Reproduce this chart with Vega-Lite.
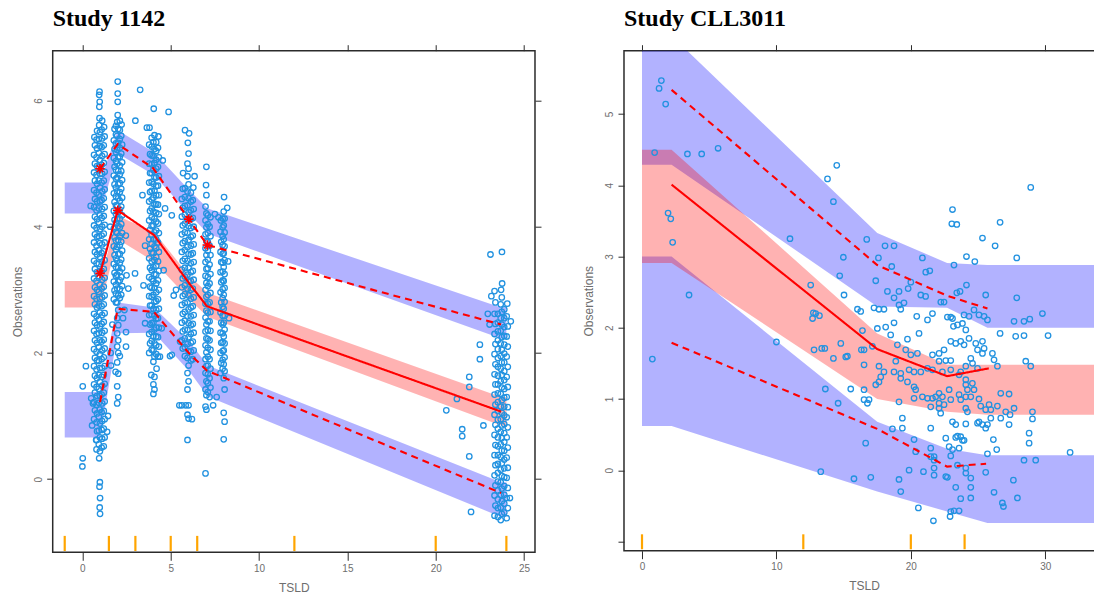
{
  "$schema": "https://vega.github.io/schema/vega-lite/v6.json",
  "padding": {"left": 10.7, "top": 5.7, "right": 0, "bottom": 0},
  "bounds": "flush",
  "spacing": 88.3,
  "config": {
    "view": {"stroke": "#2b2b2b", "strokeWidth": 1.5},
    "axis": {"domain": false, "grid": false, "tickColor": "#2b2b2b", "tickWidth": 1, "labelColor": "#6e6e6e", "labelFont": "Liberation Sans", "labelFontSize": 10, "titleFont": "Liberation Sans", "titleFontSize": 12, "titleFontWeight": "normal", "titleColor": "#6e6e6e", "labelFlush": false, "labelOverlap": false},
    "title": {"font": "Liberation Serif", "fontSize": 24, "fontWeight": "bold", "color": "#000000", "anchor": "start", "frame": "group", "baseline": "alphabetic", "offset": 13}
  },
  "datasets": {
    "b1": [
      {"b":"up","x":-1,"lo":4.21,"hi":4.7},{"b":"up","x":1,"lo":4.21,"hi":4.7},{"b":"up","x":2,"lo":5.16,"hi":5.53},{"b":"up","x":4.05,"lo":4.82,"hi":5.18},{"b":"up","x":6.05,"lo":4.2,"hi":4.58},{"b":"up","x":7.1,"lo":3.89,"hi":4.29},{"b":"up","x":23.7,"lo":2.23,"hi":2.72},{"b":"up","x":24,"lo":2.23,"hi":2.72},
      {"b":"mid","x":-1,"lo":2.72,"hi":3.14},{"b":"mid","x":1,"lo":2.72,"hi":3.14},{"b":"mid","x":2,"lo":3.8,"hi":4.17},{"b":"mid","x":4.05,"lo":3.45,"hi":3.92},{"b":"mid","x":6.05,"lo":2.85,"hi":3.22},{"b":"mid","x":7.1,"lo":2.57,"hi":2.95},{"b":"mid","x":23.7,"lo":0.85,"hi":1.3},{"b":"mid","x":24,"lo":0.85,"hi":1.3},
      {"b":"low","x":-1,"lo":0.66,"hi":1.38},{"b":"low","x":1,"lo":0.66,"hi":1.38},{"b":"low","x":2,"lo":2.31,"hi":2.8},{"b":"low","x":4.05,"lo":2.32,"hi":2.72},{"b":"low","x":6.05,"lo":1.71,"hi":2.18},{"b":"low","x":7.1,"lo":1.31,"hi":1.8},{"b":"low","x":23.7,"lo":-0.6,"hi":-0.05},{"b":"low","x":24,"lo":-0.6,"hi":-0.05}
    ],
    "b2": [
      {"b":"up","x":0,"lo":4.29,"hi":6.1},{"b":"up","x":2.2,"lo":4.29,"hi":6.1},{"b":"up","x":17.5,"lo":2.3,"hi":3.33},{"b":"up","x":22.7,"lo":2.28,"hi":2.91},{"b":"up","x":25.7,"lo":2.0,"hi":2.88},{"b":"up","x":36,"lo":2.0,"hi":2.88},
      {"b":"mid","x":0,"lo":2.91,"hi":4.5},{"b":"mid","x":2.2,"lo":2.91,"hi":4.5},{"b":"mid","x":17.5,"lo":1.0,"hi":1.92},{"b":"mid","x":22.7,"lo":0.82,"hi":1.48},{"b":"mid","x":25.7,"lo":0.78,"hi":1.48},{"b":"mid","x":36,"lo":0.78,"hi":1.48},
      {"b":"low","x":0,"lo":0.62,"hi":3.0},{"b":"low","x":2.2,"lo":0.62,"hi":3.0},{"b":"low","x":17.5,"lo":-0.3,"hi":0.68},{"b":"low","x":22.7,"lo":-0.58,"hi":0.3},{"b":"low","x":25.7,"lo":-0.74,"hi":0.21},{"b":"low","x":36,"lo":-0.74,"hi":0.21}
    ],
    "l1": [
      {"s":"med","x":1,"y":3.26},{"s":"med","x":2,"y":4.26},{"s":"med","x":4.05,"y":3.87},{"s":"med","x":6.05,"y":3.1},{"s":"med","x":7.05,"y":2.74},{"s":"med","x":23.7,"y":1.07},
      {"s":"hi","x":1,"y":4.92},{"s":"hi","x":2,"y":5.31},{"s":"hi","x":4,"y":4.93},{"s":"hi","x":6.02,"y":4.12},{"s":"hi","x":7.07,"y":3.71},{"s":"hi","x":23.7,"y":2.45},
      {"s":"lo","x":1,"y":1.22},{"s":"lo","x":2,"y":2.7},{"s":"lo","x":4.05,"y":2.65},{"s":"lo","x":6.05,"y":1.99},{"s":"lo","x":7.05,"y":1.72},{"s":"lo","x":23.7,"y":-0.22}
    ],
    "l2": [
      {"s":"med","x":2.2,"y":4.01},{"s":"med","x":17.5,"y":1.7},{"s":"med","x":22.7,"y":1.32},{"s":"med","x":25.8,"y":1.43},
      {"s":"hi","x":2.2,"y":5.34},{"s":"hi","x":17.5,"y":2.88},{"s":"hi","x":22.7,"y":2.45},{"s":"hi","x":25.7,"y":2.27},
      {"s":"lo","x":2.2,"y":1.79},{"s":"lo","x":17.5,"y":0.58},{"s":"lo","x":22.7,"y":0.05},{"s":"lo","x":25.6,"y":0.09}
    ],
    "s1": [{"x":1,"y":4.92},{"x":1,"y":3.26},{"x":2,"y":4.26},{"x":6.02,"y":4.12},{"x":7.07,"y":3.71}],
    "k1": [{"x":-1},{"x":1.5},{"x":3},{"x":5},{"x":6.5},{"x":12},{"x":20},{"x":24}],
    "k2": [{"x":0},{"x":12},{"x":20},{"x":24}],
    "o1": [
      {"x":1.0,"y":-0.55},{"x":0.98,"y":-0.45},{"x":1.0,"y":-0.3},{"x":0.97,"y":-0.12},{"x":0.99,"y":-0.05},
      {"x":0.95,"y":0.33},{"x":0.99,"y":0.44},{"x":0.93,"y":0.55},{"x":0.99,"y":0.66},{"x":0.93,"y":0.77},{"x":0.99,"y":0.88},{"x":0.93,"y":0.99},{"x":0.99,"y":1.1},{"x":0.93,"y":1.21},{"x":0.99,"y":1.32},{"x":0.93,"y":1.43},{"x":0.99,"y":1.54},{"x":0.93,"y":1.65},{"x":0.99,"y":1.76},{"x":0.93,"y":1.87},{"x":0.99,"y":1.98},{"x":0.93,"y":2.09},{"x":0.99,"y":2.2},{"x":0.93,"y":2.31},{"x":0.99,"y":2.42},{"x":0.93,"y":2.53},{"x":0.99,"y":2.64},{"x":0.93,"y":2.75},{"x":0.99,"y":2.86},{"x":0.93,"y":2.97},{"x":0.99,"y":3.08},{"x":0.93,"y":3.19},{"x":0.99,"y":3.3},{"x":0.93,"y":3.41},{"x":0.99,"y":3.52},{"x":0.93,"y":3.63},{"x":0.99,"y":3.74},{"x":0.93,"y":3.85},{"x":0.99,"y":3.96},{"x":0.93,"y":4.07},{"x":0.99,"y":4.18},{"x":0.93,"y":4.29},{"x":0.99,"y":4.4},{"x":0.93,"y":4.51},{"x":0.99,"y":4.62},{"x":0.93,"y":4.73},{"x":0.99,"y":4.84},{"x":0.93,"y":4.95},{"x":0.99,"y":5.06},{"x":0.93,"y":5.17},{"x":0.99,"y":5.28},{"x":0.93,"y":5.39},{"x":0.99,"y":5.5},{"x":0.95,"y":5.61},{"x":0.97,"y":5.72},{"x":0.96,"y":5.9},{"x":0.98,"y":5.98},{"x":0.95,"y":6.09},{"x":0.97,"y":6.14},
      {"x":0.66,"y":0.95},{"x":0.71,"y":1.09},{"x":0.66,"y":1.22},{"x":0.71,"y":1.37},{"x":0.66,"y":1.5},{"x":0.71,"y":1.64},{"x":0.66,"y":1.79},{"x":0.71,"y":1.92},{"x":0.66,"y":2.06},{"x":0.71,"y":2.2},{"x":0.66,"y":2.35},{"x":0.71,"y":2.48},{"x":0.66,"y":2.62},{"x":0.71,"y":2.77},{"x":0.66,"y":2.9},{"x":0.71,"y":3.04},{"x":0.66,"y":3.18},{"x":0.71,"y":3.33},{"x":0.66,"y":3.46},{"x":0.71,"y":3.6},{"x":0.66,"y":3.75},{"x":0.71,"y":3.88},{"x":0.66,"y":4.02},{"x":0.71,"y":4.16},{"x":0.66,"y":4.31},{"x":0.71,"y":4.44},{"x":0.66,"y":4.58},{"x":0.71,"y":4.73},{"x":0.66,"y":4.86},{"x":0.71,"y":5.0},{"x":0.66,"y":5.14},{"x":0.71,"y":5.29},{"x":0.68,"y":5.42},
      {"x":0.8,"y":0.62},{"x":0.83,"y":0.76},{"x":0.8,"y":0.9},{"x":0.83,"y":1.04},{"x":0.8,"y":1.18},{"x":0.83,"y":1.32},{"x":0.8,"y":1.46},{"x":0.83,"y":1.6},{"x":0.8,"y":1.74},{"x":0.83,"y":1.88},{"x":0.8,"y":2.02},{"x":0.83,"y":2.16},{"x":0.8,"y":2.3},{"x":0.83,"y":2.44},{"x":0.8,"y":2.58},{"x":0.83,"y":2.72},{"x":0.8,"y":2.86},{"x":0.83,"y":3.0},{"x":0.8,"y":3.14},{"x":0.83,"y":3.28},{"x":0.8,"y":3.42},{"x":0.83,"y":3.56},{"x":0.8,"y":3.7},{"x":0.83,"y":3.84},{"x":0.8,"y":3.98},{"x":0.83,"y":4.12},{"x":0.8,"y":4.26},{"x":0.83,"y":4.4},{"x":0.8,"y":4.54},{"x":0.83,"y":4.68},{"x":0.8,"y":4.82},{"x":0.83,"y":4.96},{"x":0.8,"y":5.1},{"x":0.83,"y":5.24},{"x":0.8,"y":5.38},{"x":0.83,"y":5.52},
      {"x":1.09,"y":0.5},{"x":1.12,"y":0.64},{"x":1.09,"y":0.78},{"x":1.12,"y":0.92},{"x":1.09,"y":1.06},{"x":1.12,"y":1.2},{"x":1.09,"y":1.34},{"x":1.12,"y":1.48},{"x":1.09,"y":1.62},{"x":1.12,"y":1.76},{"x":1.09,"y":1.9},{"x":1.12,"y":2.04},{"x":1.09,"y":2.18},{"x":1.12,"y":2.32},{"x":1.09,"y":2.46},{"x":1.12,"y":2.6},{"x":1.09,"y":2.74},{"x":1.12,"y":2.88},{"x":1.09,"y":3.02},{"x":1.12,"y":3.16},{"x":1.09,"y":3.3},{"x":1.12,"y":3.44},{"x":1.09,"y":3.58},{"x":1.12,"y":3.72},{"x":1.09,"y":3.86},{"x":1.12,"y":4.0},{"x":1.09,"y":4.14},{"x":1.12,"y":4.28},{"x":1.09,"y":4.42},{"x":1.12,"y":4.56},{"x":1.09,"y":4.7},{"x":1.12,"y":4.84},{"x":1.09,"y":4.98},{"x":1.12,"y":5.12},{"x":1.09,"y":5.26},{"x":1.12,"y":5.4},{"x":1.09,"y":5.54},{"x":1.12,"y":5.68},
      {"x":1.21,"y":0.52},{"x":1.26,"y":0.66},{"x":1.21,"y":0.8},{"x":1.26,"y":0.95},{"x":1.21,"y":1.08},{"x":1.26,"y":1.23},{"x":1.21,"y":1.37},{"x":1.26,"y":1.51},{"x":1.21,"y":1.65},{"x":1.26,"y":1.79},{"x":1.21,"y":1.93},{"x":1.26,"y":2.07},{"x":1.21,"y":2.21},{"x":1.26,"y":2.35},{"x":1.21,"y":2.49},{"x":1.26,"y":2.63},{"x":1.21,"y":2.77},{"x":1.26,"y":2.91},{"x":1.21,"y":3.05},{"x":1.26,"y":3.19},{"x":1.21,"y":3.33},{"x":1.26,"y":3.47},{"x":1.21,"y":3.61},{"x":1.26,"y":3.75},{"x":1.21,"y":3.89},{"x":1.26,"y":4.03},{"x":1.21,"y":4.17},{"x":1.26,"y":4.31},{"x":1.21,"y":4.45},{"x":1.26,"y":4.59},{"x":1.21,"y":4.73},{"x":1.26,"y":4.87},{"x":1.21,"y":5.01},{"x":1.26,"y":5.15},{"x":1.21,"y":5.29},{"x":1.26,"y":5.43},{"x":1.23,"y":5.58},
      {"x":0.02,"y":0.33},{"x":0.0,"y":0.2},{"x":0.02,"y":1.47},{"x":0.2,"y":1.79},{"x":0.6,"y":1.2},{"x":0.5,"y":1.28},{"x":0.47,"y":4.33},{"x":0.8,"y":0.47},{"x":0.78,"y":0.62},{"x":1.45,"y":1.0},{"x":0.55,"y":0.85},{"x":1.4,"y":0.75},
      {"x":1.97,"y":1.2},{"x":2.03,"y":1.3},{"x":1.97,"y":1.47},{"x":2.03,"y":1.67},{"x":1.97,"y":1.85},{"x":2.03,"y":2.0},{"x":1.97,"y":2.1},{"x":2.03,"y":2.2},{"x":1.97,"y":2.31},{"x":2.03,"y":2.44},{"x":1.97,"y":2.55},{"x":2.03,"y":2.68},{"x":1.97,"y":2.8},{"x":2.03,"y":2.91},{"x":1.97,"y":3.02},{"x":2.03,"y":3.13},{"x":1.97,"y":3.24},{"x":2.03,"y":3.35},{"x":1.97,"y":3.46},{"x":2.03,"y":3.57},{"x":1.97,"y":3.68},{"x":2.03,"y":3.79},{"x":1.97,"y":3.9},{"x":2.03,"y":4.01},{"x":1.97,"y":4.12},{"x":2.03,"y":4.23},{"x":1.97,"y":4.34},{"x":2.03,"y":4.45},{"x":1.97,"y":4.56},{"x":2.03,"y":4.67},{"x":1.97,"y":4.78},{"x":2.03,"y":4.89},{"x":1.97,"y":5.0},{"x":2.03,"y":5.11},{"x":1.97,"y":5.22},{"x":2.03,"y":5.33},{"x":1.97,"y":5.44},{"x":2.03,"y":5.55},{"x":1.97,"y":5.66},{"x":2.0,"y":5.77},{"x":2.0,"y":5.98},{"x":2.0,"y":6.11},{"x":2.0,"y":6.3},
      {"x":1.78,"y":2.85},{"x":1.82,"y":2.99},{"x":1.78,"y":3.13},{"x":1.82,"y":3.27},{"x":1.78,"y":3.41},{"x":1.82,"y":3.55},{"x":1.78,"y":3.69},{"x":1.82,"y":3.83},{"x":1.78,"y":3.97},{"x":1.82,"y":4.11},{"x":1.78,"y":4.25},{"x":1.82,"y":4.39},{"x":1.78,"y":4.53},{"x":1.82,"y":4.67},{"x":1.78,"y":4.81},{"x":1.82,"y":4.95},{"x":1.78,"y":5.09},{"x":1.82,"y":5.23},{"x":1.78,"y":5.37},{"x":1.82,"y":5.55},
      {"x":1.9,"y":2.8},{"x":1.9,"y":2.94},{"x":1.9,"y":3.08},{"x":1.9,"y":3.22},{"x":1.9,"y":3.36},{"x":1.9,"y":3.5},{"x":1.9,"y":3.64},{"x":1.9,"y":3.78},{"x":1.9,"y":3.92},{"x":1.9,"y":4.06},{"x":1.9,"y":4.2},{"x":1.9,"y":4.34},{"x":1.9,"y":4.48},{"x":1.9,"y":4.62},{"x":1.9,"y":4.76},{"x":1.9,"y":4.9},{"x":1.9,"y":5.04},{"x":1.9,"y":5.18},{"x":1.9,"y":5.32},{"x":1.9,"y":5.46},{"x":1.9,"y":5.6},
      {"x":2.12,"y":2.87},{"x":2.12,"y":3.01},{"x":2.12,"y":3.15},{"x":2.12,"y":3.29},{"x":2.12,"y":3.43},{"x":2.12,"y":3.57},{"x":2.12,"y":3.71},{"x":2.12,"y":3.85},{"x":2.12,"y":3.99},{"x":2.12,"y":4.13},{"x":2.12,"y":4.27},{"x":2.12,"y":4.41},{"x":2.12,"y":4.55},{"x":2.12,"y":4.69},{"x":2.12,"y":4.83},{"x":2.12,"y":4.97},{"x":2.12,"y":5.11},{"x":2.12,"y":5.25},{"x":2.12,"y":5.39},{"x":2.12,"y":5.53},{"x":2.12,"y":5.68},
      {"x":2.2,"y":2.92},{"x":2.25,"y":3.06},{"x":2.2,"y":3.2},{"x":2.25,"y":3.34},{"x":2.2,"y":3.48},{"x":2.25,"y":3.62},{"x":2.2,"y":3.76},{"x":2.25,"y":3.9},{"x":2.2,"y":4.04},{"x":2.25,"y":4.18},{"x":2.2,"y":4.32},{"x":2.25,"y":4.46},{"x":2.2,"y":4.6},{"x":2.25,"y":4.74},{"x":2.2,"y":4.88},{"x":2.25,"y":5.02},{"x":2.2,"y":5.16},{"x":2.25,"y":5.3},{"x":2.2,"y":5.44},{"x":2.22,"y":5.62},
      {"x":1.6,"y":2.0},{"x":1.62,"y":1.8},{"x":2.5,"y":3.23},{"x":2.6,"y":3.02},{"x":1.57,"y":4.0},{"x":2.47,"y":2.33},{"x":2.47,"y":2.1},{"x":2.46,"y":3.86},{"x":1.88,"y":1.7},{"x":2.12,"y":1.95},{"x":3.27,"y":6.17},{"x":2.38,"y":2.68},{"x":1.7,"y":2.45},{"x":2.3,"y":2.55},
      {"x":4.02,"y":1.35},{"x":4.08,"y":1.42},{"x":4.02,"y":1.5},{"x":4.08,"y":1.62},{"x":4.02,"y":1.86},{"x":4.08,"y":1.94},{"x":4.02,"y":2.04},{"x":4.08,"y":2.15},{"x":4.02,"y":2.26},{"x":4.08,"y":2.37},{"x":4.02,"y":2.48},{"x":4.08,"y":2.59},{"x":4.02,"y":2.7},{"x":4.08,"y":2.81},{"x":4.02,"y":2.92},{"x":4.08,"y":3.03},{"x":4.02,"y":3.14},{"x":4.08,"y":3.25},{"x":4.02,"y":3.36},{"x":4.08,"y":3.47},{"x":4.02,"y":3.58},{"x":4.08,"y":3.69},{"x":4.02,"y":3.8},{"x":4.08,"y":3.91},{"x":4.02,"y":4.02},{"x":4.08,"y":4.13},{"x":4.02,"y":4.24},{"x":4.08,"y":4.35},{"x":4.02,"y":4.46},{"x":4.08,"y":4.57},{"x":4.02,"y":4.68},{"x":4.08,"y":4.79},{"x":4.02,"y":4.9},{"x":4.08,"y":5.01},{"x":4.02,"y":5.12},{"x":4.08,"y":5.23},{"x":4.02,"y":5.34},{"x":4.08,"y":5.45},{"x":4.04,"y":5.87},
      {"x":3.78,"y":2.0},{"x":3.83,"y":2.15},{"x":3.78,"y":2.3},{"x":3.83,"y":2.45},{"x":3.78,"y":2.6},{"x":3.83,"y":2.75},{"x":3.78,"y":2.9},{"x":3.83,"y":3.05},{"x":3.78,"y":3.2},{"x":3.83,"y":3.35},{"x":3.78,"y":3.5},{"x":3.83,"y":3.65},{"x":3.78,"y":3.8},{"x":3.83,"y":3.95},{"x":3.78,"y":4.1},{"x":3.83,"y":4.25},{"x":3.78,"y":4.4},{"x":3.83,"y":4.55},{"x":3.78,"y":4.7},{"x":3.83,"y":4.85},{"x":3.78,"y":5.0},{"x":3.83,"y":5.15},{"x":3.78,"y":5.3},{"x":3.8,"y":5.57},
      {"x":3.92,"y":2.05},{"x":3.92,"y":2.19},{"x":3.92,"y":2.33},{"x":3.92,"y":2.47},{"x":3.92,"y":2.61},{"x":3.92,"y":2.75},{"x":3.92,"y":2.89},{"x":3.92,"y":3.03},{"x":3.92,"y":3.17},{"x":3.92,"y":3.31},{"x":3.92,"y":3.45},{"x":3.92,"y":3.59},{"x":3.92,"y":3.73},{"x":3.92,"y":3.87},{"x":3.92,"y":4.01},{"x":3.92,"y":4.15},{"x":3.92,"y":4.29},{"x":3.92,"y":4.43},{"x":3.92,"y":4.57},{"x":3.92,"y":4.71},{"x":3.92,"y":4.85},{"x":3.92,"y":4.99},{"x":3.92,"y":5.13},{"x":3.92,"y":5.27},{"x":3.92,"y":5.41},
      {"x":4.18,"y":1.98},{"x":4.18,"y":2.12},{"x":4.18,"y":2.26},{"x":4.18,"y":2.4},{"x":4.18,"y":2.54},{"x":4.18,"y":2.68},{"x":4.18,"y":2.82},{"x":4.18,"y":2.96},{"x":4.18,"y":3.1},{"x":4.18,"y":3.24},{"x":4.18,"y":3.38},{"x":4.18,"y":3.52},{"x":4.18,"y":3.66},{"x":4.18,"y":3.8},{"x":4.18,"y":3.94},{"x":4.18,"y":4.08},{"x":4.18,"y":4.22},{"x":4.18,"y":4.36},{"x":4.18,"y":4.5},{"x":4.18,"y":4.64},{"x":4.18,"y":4.78},{"x":4.18,"y":4.92},{"x":4.18,"y":5.06},{"x":4.18,"y":5.2},{"x":4.18,"y":5.34},
      {"x":4.28,"y":1.94},{"x":4.33,"y":2.1},{"x":4.28,"y":2.25},{"x":4.33,"y":2.4},{"x":4.28,"y":2.55},{"x":4.33,"y":2.7},{"x":4.28,"y":2.85},{"x":4.33,"y":3.0},{"x":4.28,"y":3.15},{"x":4.33,"y":3.3},{"x":4.28,"y":3.45},{"x":4.33,"y":3.6},{"x":4.28,"y":3.75},{"x":4.33,"y":3.9},{"x":4.28,"y":4.05},{"x":4.33,"y":4.2},{"x":4.28,"y":4.35},{"x":4.33,"y":4.5},{"x":4.28,"y":4.65},{"x":4.33,"y":4.8},{"x":4.28,"y":4.95},{"x":4.33,"y":5.1},{"x":4.28,"y":5.25},{"x":4.3,"y":5.43},
      {"x":3.0,"y":5.68},{"x":4.88,"y":5.82},{"x":4.6,"y":3.31},{"x":5.17,"y":2.91},{"x":3.46,"y":3.07},{"x":3.55,"y":3.7},{"x":2.98,"y":3.26},{"x":4.68,"y":4.29},{"x":5.06,"y":4.18},{"x":3.55,"y":2.47},{"x":4.49,"y":2.39},{"x":4.96,"y":1.95},{"x":4.39,"y":1.94},{"x":3.9,"y":1.65},{"x":4.2,"y":1.75},{"x":3.4,"y":4.5},{"x":4.55,"y":5.05},{"x":3.65,"y":5.57},
      {"x":5.95,"y":0.62},{"x":6.01,"y":0.96},{"x":5.95,"y":1.02},{"x":6.01,"y":1.17},{"x":5.95,"y":1.42},{"x":6.01,"y":1.55},{"x":5.95,"y":1.68},{"x":6.01,"y":1.8},{"x":5.95,"y":1.92},{"x":6.01,"y":2.03},{"x":5.95,"y":2.14},{"x":6.01,"y":2.25},{"x":5.95,"y":2.36},{"x":6.01,"y":2.47},{"x":5.95,"y":2.58},{"x":6.01,"y":2.69},{"x":5.95,"y":2.8},{"x":6.01,"y":2.91},{"x":5.95,"y":3.02},{"x":6.01,"y":3.13},{"x":5.95,"y":3.24},{"x":6.01,"y":3.35},{"x":5.95,"y":3.46},{"x":6.01,"y":3.57},{"x":5.95,"y":3.68},{"x":6.01,"y":3.79},{"x":5.95,"y":3.9},{"x":6.01,"y":4.01},{"x":5.95,"y":4.12},{"x":6.01,"y":4.23},{"x":5.95,"y":4.34},{"x":6.01,"y":4.45},{"x":5.95,"y":4.56},{"x":6.01,"y":4.67},{"x":5.95,"y":4.8},{"x":6.01,"y":4.92},{"x":5.95,"y":5.0},{"x":6.01,"y":5.16},{"x":5.97,"y":5.33},{"x":6.04,"y":5.48},
      {"x":5.63,"y":1.17},{"x":5.68,"y":2.07},{"x":5.63,"y":2.2},{"x":5.68,"y":2.34},{"x":5.63,"y":2.48},{"x":5.68,"y":2.62},{"x":5.63,"y":2.76},{"x":5.68,"y":2.9},{"x":5.63,"y":3.04},{"x":5.68,"y":3.18},{"x":5.63,"y":3.32},{"x":5.68,"y":3.46},{"x":5.63,"y":3.6},{"x":5.68,"y":3.74},{"x":5.63,"y":3.88},{"x":5.68,"y":4.02},{"x":5.63,"y":4.16},{"x":5.68,"y":4.3},{"x":5.63,"y":4.44},{"x":5.68,"y":4.6},
      {"x":5.8,"y":1.95},{"x":5.8,"y":2.09},{"x":5.8,"y":2.23},{"x":5.8,"y":2.37},{"x":5.8,"y":2.51},{"x":5.8,"y":2.65},{"x":5.8,"y":2.79},{"x":5.8,"y":2.93},{"x":5.8,"y":3.07},{"x":5.8,"y":3.21},{"x":5.8,"y":3.35},{"x":5.8,"y":3.49},{"x":5.8,"y":3.63},{"x":5.8,"y":3.77},{"x":5.8,"y":3.91},{"x":5.8,"y":4.05},{"x":5.8,"y":4.19},{"x":5.8,"y":4.33},{"x":5.8,"y":4.47},{"x":5.8,"y":4.61},
      {"x":6.14,"y":1.88},{"x":6.14,"y":2.02},{"x":6.14,"y":2.16},{"x":6.14,"y":2.3},{"x":6.14,"y":2.44},{"x":6.14,"y":2.58},{"x":6.14,"y":2.72},{"x":6.14,"y":2.86},{"x":6.14,"y":3.0},{"x":6.14,"y":3.14},{"x":6.14,"y":3.28},{"x":6.14,"y":3.42},{"x":6.14,"y":3.56},{"x":6.14,"y":3.7},{"x":6.14,"y":3.84},{"x":6.14,"y":3.98},{"x":6.14,"y":4.12},{"x":6.14,"y":4.26},{"x":6.14,"y":4.4},{"x":6.14,"y":4.54},
      {"x":6.25,"y":1.9},{"x":6.3,"y":2.04},{"x":6.25,"y":2.18},{"x":6.3,"y":2.32},{"x":6.25,"y":2.46},{"x":6.3,"y":2.6},{"x":6.25,"y":2.74},{"x":6.3,"y":2.88},{"x":6.25,"y":3.02},{"x":6.3,"y":3.16},{"x":6.25,"y":3.3},{"x":6.3,"y":3.44},{"x":6.25,"y":3.58},{"x":6.3,"y":3.72},{"x":6.25,"y":3.86},{"x":6.3,"y":4.0},{"x":6.25,"y":4.14},{"x":6.3,"y":4.28},{"x":6.25,"y":4.42},{"x":6.28,"y":4.62},
      {"x":5.81,"y":5.53},{"x":5.49,"y":1.17},{"x":5.06,"y":1.97},{"x":5.85,"y":1.17},{"x":6.2,"y":0.95},{"x":5.7,"y":4.85},{"x":6.35,"y":4.8},{"x":5.3,"y":3.0},{"x":5.53,"y":2.18},
      {"x":6.97,"y":0.09},{"x":7.02,"y":1.1},{"x":6.97,"y":1.15},{"x":7.02,"y":1.33},{"x":6.97,"y":1.42},{"x":7.02,"y":1.55},{"x":6.97,"y":1.68},{"x":7.02,"y":1.79},{"x":6.97,"y":1.9},{"x":7.02,"y":2.01},{"x":6.97,"y":2.12},{"x":7.02,"y":2.23},{"x":6.97,"y":2.34},{"x":7.02,"y":2.45},{"x":6.97,"y":2.56},{"x":7.02,"y":2.67},{"x":6.97,"y":2.78},{"x":7.02,"y":2.89},{"x":6.97,"y":3.0},{"x":7.02,"y":3.11},{"x":6.97,"y":3.22},{"x":7.02,"y":3.33},{"x":6.97,"y":3.44},{"x":7.02,"y":3.55},{"x":6.97,"y":3.66},{"x":7.02,"y":3.77},{"x":6.97,"y":3.88},{"x":7.02,"y":3.99},{"x":6.97,"y":4.1},{"x":7.02,"y":4.21},{"x":6.97,"y":4.32},{"x":7.02,"y":4.5},{"x":7.0,"y":4.66},{"x":7.02,"y":4.95},
      {"x":7.1,"y":1.38},{"x":7.1,"y":1.52},{"x":7.1,"y":1.66},{"x":7.1,"y":1.8},{"x":7.1,"y":1.94},{"x":7.1,"y":2.08},{"x":7.1,"y":2.22},{"x":7.1,"y":2.36},{"x":7.1,"y":2.5},{"x":7.1,"y":2.64},{"x":7.1,"y":2.78},{"x":7.1,"y":2.92},{"x":7.1,"y":3.06},{"x":7.1,"y":3.2},{"x":7.1,"y":3.34},{"x":7.1,"y":3.48},{"x":7.1,"y":3.62},{"x":7.1,"y":3.76},{"x":7.1,"y":3.9},{"x":7.1,"y":4.04},{"x":7.1,"y":4.18},
      {"x":7.2,"y":1.3},{"x":7.25,"y":1.45},{"x":7.2,"y":1.6},{"x":7.25,"y":1.75},{"x":7.2,"y":1.9},{"x":7.25,"y":2.05},{"x":7.2,"y":2.2},{"x":7.25,"y":2.35},{"x":7.2,"y":2.5},{"x":7.25,"y":2.65},{"x":7.2,"y":2.8},{"x":7.25,"y":2.95},{"x":7.2,"y":3.1},{"x":7.25,"y":3.25},{"x":7.2,"y":3.4},{"x":7.25,"y":3.55},{"x":7.2,"y":3.7},{"x":7.25,"y":3.85},{"x":7.2,"y":4.0},{"x":7.25,"y":4.15},
      {"x":8.0,"y":0.63},{"x":8.05,"y":0.91},{"x":8.0,"y":1.05},{"x":8.05,"y":1.42},{"x":8.0,"y":1.6},{"x":8.05,"y":1.71},{"x":8.0,"y":1.82},{"x":8.05,"y":1.93},{"x":8.0,"y":2.04},{"x":8.05,"y":2.15},{"x":8.0,"y":2.26},{"x":8.05,"y":2.37},{"x":8.0,"y":2.48},{"x":8.05,"y":2.59},{"x":8.0,"y":2.7},{"x":8.05,"y":2.81},{"x":8.0,"y":2.92},{"x":8.05,"y":3.03},{"x":8.0,"y":3.14},{"x":8.05,"y":3.25},{"x":8.0,"y":3.36},{"x":8.05,"y":3.47},{"x":8.0,"y":3.58},{"x":8.05,"y":3.69},{"x":8.0,"y":3.8},{"x":8.05,"y":3.91},{"x":8.0,"y":4.02},{"x":8.05,"y":4.13},{"x":8.0,"y":4.24},{"x":8.02,"y":4.47},
      {"x":7.94,"y":1.75},{"x":7.94,"y":1.89},{"x":7.94,"y":2.03},{"x":7.94,"y":2.17},{"x":7.94,"y":2.31},{"x":7.94,"y":2.45},{"x":7.94,"y":2.59},{"x":7.94,"y":2.73},{"x":7.94,"y":2.87},{"x":7.94,"y":3.01},{"x":7.94,"y":3.15},{"x":7.94,"y":3.29},{"x":7.94,"y":3.43},{"x":7.94,"y":3.57},{"x":7.94,"y":3.71},{"x":7.94,"y":3.85},{"x":7.94,"y":3.99},{"x":7.94,"y":4.13},
      {"x":7.82,"y":1.68},{"x":7.86,"y":1.84},{"x":7.82,"y":2.0},{"x":7.86,"y":2.16},{"x":7.82,"y":2.32},{"x":7.86,"y":2.48},{"x":7.82,"y":2.64},{"x":7.86,"y":2.8},{"x":7.82,"y":2.96},{"x":7.86,"y":3.12},{"x":7.82,"y":3.28},{"x":7.86,"y":3.44},{"x":7.82,"y":3.6},{"x":7.86,"y":3.76},{"x":7.82,"y":3.92},{"x":7.84,"y":4.1},
      {"x":7.4,"y":1.17},{"x":7.5,"y":4.2},{"x":7.7,"y":4.15},{"x":8.3,"y":2.55},{"x":8.25,"y":3.45},{"x":7.6,"y":1.3},{"x":8.2,"y":4.3},
      {"x":23.68,"y":-0.65},{"x":23.74,"y":-0.55},{"x":23.68,"y":-0.45},{"x":23.74,"y":-0.35},{"x":23.68,"y":-0.25},{"x":23.74,"y":-0.15},{"x":23.68,"y":-0.05},{"x":23.74,"y":0.05},{"x":23.68,"y":0.15},{"x":23.74,"y":0.25},{"x":23.68,"y":0.35},{"x":23.74,"y":0.45},{"x":23.68,"y":0.55},{"x":23.74,"y":0.65},{"x":23.68,"y":0.75},{"x":23.74,"y":0.85},{"x":23.68,"y":0.95},{"x":23.74,"y":1.05},{"x":23.68,"y":1.15},{"x":23.74,"y":1.25},{"x":23.68,"y":1.35},{"x":23.74,"y":1.45},{"x":23.68,"y":1.55},{"x":23.74,"y":1.65},{"x":23.68,"y":1.75},{"x":23.74,"y":1.85},{"x":23.68,"y":1.95},{"x":23.74,"y":2.05},{"x":23.68,"y":2.15},{"x":23.74,"y":2.25},{"x":23.68,"y":2.35},{"x":23.74,"y":2.45},{"x":23.68,"y":2.55},{"x":23.74,"y":2.65},{"x":23.68,"y":2.77},{"x":23.74,"y":2.88},{"x":23.7,"y":3.0},{"x":23.76,"y":3.1},
      {"x":23.52,"y":-0.6},{"x":23.52,"y":-0.46},{"x":23.52,"y":-0.32},{"x":23.52,"y":-0.18},{"x":23.52,"y":-0.04},{"x":23.52,"y":0.1},{"x":23.52,"y":0.24},{"x":23.52,"y":0.38},{"x":23.52,"y":0.52},{"x":23.52,"y":0.66},{"x":23.52,"y":0.8},{"x":23.52,"y":0.94},{"x":23.52,"y":1.08},{"x":23.52,"y":1.22},{"x":23.52,"y":1.36},{"x":23.52,"y":1.5},{"x":23.52,"y":1.64},{"x":23.52,"y":1.78},{"x":23.52,"y":1.92},{"x":23.52,"y":2.06},{"x":23.52,"y":2.2},{"x":23.52,"y":2.34},{"x":23.52,"y":2.48},{"x":23.52,"y":2.62},
      {"x":23.88,"y":-0.53},{"x":23.88,"y":-0.39},{"x":23.88,"y":-0.25},{"x":23.88,"y":-0.11},{"x":23.88,"y":0.03},{"x":23.88,"y":0.17},{"x":23.88,"y":0.31},{"x":23.88,"y":0.45},{"x":23.88,"y":0.59},{"x":23.88,"y":0.73},{"x":23.88,"y":0.87},{"x":23.88,"y":1.01},{"x":23.88,"y":1.15},{"x":23.88,"y":1.29},{"x":23.88,"y":1.43},{"x":23.88,"y":1.57},{"x":23.88,"y":1.71},{"x":23.88,"y":1.85},{"x":23.88,"y":1.99},{"x":23.88,"y":2.13},{"x":23.88,"y":2.27},{"x":23.88,"y":2.41},{"x":23.88,"y":2.55},{"x":23.88,"y":2.69},
      {"x":23.33,"y":-0.58},{"x":23.38,"y":-0.42},{"x":23.33,"y":-0.26},{"x":23.38,"y":-0.1},{"x":23.33,"y":0.06},{"x":23.38,"y":0.22},{"x":23.33,"y":0.38},{"x":23.38,"y":0.54},{"x":23.33,"y":0.7},{"x":23.38,"y":0.86},{"x":23.33,"y":1.02},{"x":23.38,"y":1.18},{"x":23.33,"y":1.34},{"x":23.38,"y":1.5},{"x":23.33,"y":1.66},{"x":23.38,"y":1.82},{"x":23.33,"y":1.98},{"x":23.38,"y":2.14},{"x":23.33,"y":2.3},{"x":23.38,"y":2.46},{"x":23.33,"y":2.62},{"x":23.38,"y":2.8},{"x":23.33,"y":2.98},
      {"x":24.02,"y":-0.62},{"x":24.08,"y":-0.46},{"x":24.02,"y":-0.3},{"x":24.08,"y":-0.14},{"x":24.02,"y":0.02},{"x":24.08,"y":0.18},{"x":24.02,"y":0.34},{"x":24.08,"y":0.5},{"x":24.02,"y":0.66},{"x":24.08,"y":0.82},{"x":24.02,"y":0.98},{"x":24.08,"y":1.14},{"x":24.02,"y":1.3},{"x":24.08,"y":1.46},{"x":24.02,"y":1.62},{"x":24.08,"y":1.78},{"x":24.02,"y":1.94},{"x":24.08,"y":2.1},{"x":24.02,"y":2.26},{"x":24.08,"y":2.42},{"x":24.02,"y":2.58},{"x":24.05,"y":2.78},
      {"x":20.6,"y":1.09},{"x":21.2,"y":1.27},{"x":21.5,"y":0.79},{"x":21.5,"y":0.68},{"x":21.9,"y":1.62},{"x":21.9,"y":1.46},{"x":21.9,"y":0.36},{"x":22.0,"y":-0.52},{"x":22.5,"y":1.9},{"x":22.5,"y":2.13},{"x":23.1,"y":3.56},{"x":23.75,"y":3.6},{"x":22.7,"y":0.85},{"x":22.95,"y":2.62},{"x":23.05,"y":2.45},{"x":23.15,"y":2.9},{"x":24.25,"y":2.5},{"x":24.2,"y":-0.3}
    ],
    "o2": [
      {"x":1.44,"y":5.47},{"x":1.27,"y":5.36},{"x":1.76,"y":5.14},{"x":0.94,"y":4.46},{"x":3.38,"y":4.44},{"x":4.44,"y":4.44},{"x":5.66,"y":4.52},{"x":1.94,"y":3.61},{"x":2.14,"y":3.53},{"x":2.28,"y":3.2},{"x":3.5,"y":2.46},{"x":14.49,"y":4.28},{"x":13.8,"y":4.09},{"x":14.24,"y":3.77},{"x":11.01,"y":3.25},{"x":14.98,"y":2.99},{"x":14.71,"y":2.73},{"x":12.55,"y":2.6},{"x":15.03,"y":2.46},{"x":0.77,"y":1.56},
      {"x":10.0,"y":1.8},{"x":12.75,"y":2.21},{"x":12.92,"y":2.2},{"x":13.2,"y":2.17},{"x":12.69,"y":2.13},{"x":12.8,"y":1.69},{"x":13.37,"y":1.71},{"x":13.6,"y":1.71},{"x":14.24,"y":1.57},{"x":14.79,"y":1.78},{"x":15.28,"y":1.6},{"x":13.64,"y":1.14},{"x":14.59,"y":0.94},{"x":15.53,"y":1.14},{"x":13.3,"y":-0.02},{"x":15.77,"y":-0.12},{"x":16.27,"y":2.23},{"x":16.32,"y":1.69},{"x":15.16,"y":1.59},
      {"x":16.72,"y":3.24},{"x":18.08,"y":3.15},{"x":18.75,"y":3.15},{"x":17.59,"y":2.98},{"x":18.58,"y":2.86},{"x":20.86,"y":2.98},{"x":21.11,"y":2.78},{"x":21.41,"y":2.8},{"x":17.39,"y":2.66},{"x":18.26,"y":2.51},{"x":19.12,"y":2.51},{"x":20.0,"y":2.64},{"x":19.8,"y":2.55},{"x":23.1,"y":3.66},{"x":23.05,"y":3.46},{"x":23.42,"y":3.45},{"x":26.64,"y":3.48},{"x":28.92,"y":3.97},{"x":25.33,"y":3.26},{"x":26.27,"y":3.15},{"x":24.14,"y":3.0},{"x":24.76,"y":2.93},{"x":27.88,"y":2.98},{"x":23.21,"y":2.88},{"x":24.14,"y":2.6},{"x":23.42,"y":2.49},{"x":23.66,"y":2.51},{"x":20.74,"y":2.46},{"x":21.1,"y":2.44},{"x":18.75,"y":2.42},{"x":19.49,"y":2.35},{"x":25.57,"y":2.46},{"x":27.88,"y":2.42},{"x":22.23,"y":2.36},{"x":22.47,"y":2.36},
      {"x":16.03,"y":2.26},{"x":17.26,"y":2.28},{"x":17.63,"y":2.26},{"x":18.0,"y":2.26},{"x":19.12,"y":2.32},{"x":19.25,"y":2.26},{"x":20.44,"y":2.16},{"x":21.24,"y":2.11},{"x":21.61,"y":2.2},{"x":22.72,"y":2.15},{"x":22.97,"y":2.15},{"x":23.96,"y":2.18},{"x":24.33,"y":2.16},{"x":24.7,"y":2.25},{"x":25.07,"y":2.18},{"x":25.45,"y":2.16},{"x":25.7,"y":2.11},{"x":27.68,"y":2.09},{"x":28.42,"y":2.09},{"x":28.85,"y":2.12},{"x":29.79,"y":2.2},{"x":18.75,"y":2.07},{"x":17.51,"y":1.99},{"x":18.13,"y":2.01},{"x":16.4,"y":1.96},{"x":18.5,"y":1.9},{"x":19.75,"y":1.84},{"x":20.61,"y":1.92},{"x":19.0,"y":1.76},{"x":19.62,"y":1.69},{"x":16.52,"y":1.69},{"x":17.14,"y":1.74},
      {"x":23.1,"y":2.13},{"x":23.17,"y":2.02},{"x":23.47,"y":2.04},{"x":23.84,"y":2.06},{"x":24.09,"y":1.97},{"x":24.33,"y":1.85},{"x":23.71,"y":1.81},{"x":23.96,"y":1.76},{"x":22.97,"y":1.81},{"x":23.34,"y":1.78},{"x":24.83,"y":1.78},{"x":25.33,"y":1.81},{"x":25.45,"y":1.71},{"x":24.96,"y":1.69},{"x":25.33,"y":1.64},{"x":26.07,"y":1.64},{"x":26.19,"y":1.55},{"x":26.44,"y":1.46},{"x":26.64,"y":1.92},{"x":27.8,"y":1.88},{"x":28.42,"y":1.89},{"x":30.21,"y":1.89},{"x":28.55,"y":1.53},{"x":28.92,"y":1.46},
      {"x":20.0,"y":1.62},{"x":20.49,"y":1.64},{"x":21.61,"y":1.62},{"x":22.1,"y":1.64},{"x":22.47,"y":1.69},{"x":22.1,"y":1.53},{"x":22.6,"y":1.54},{"x":22.97,"y":1.54},{"x":24.46,"y":1.57},{"x":24.59,"y":1.5},{"x":24.09,"y":1.46},{"x":23.71,"y":1.38},{"x":24.96,"y":1.43},{"x":22.97,"y":1.41},{"x":23.59,"y":1.34},{"x":22.35,"y":1.38},{"x":21.24,"y":1.43},{"x":21.61,"y":1.41},{"x":20.74,"y":1.38},{"x":20.24,"y":1.38},{"x":19.87,"y":1.41},{"x":18.88,"y":1.53},{"x":18.75,"y":1.38},{"x":19.25,"y":1.36},{"x":17.63,"y":1.46},{"x":18.0,"y":1.38},{"x":17.76,"y":1.31},{"x":16.52,"y":1.48},{"x":17.39,"y":1.2},{"x":17.63,"y":1.24},{"x":16.52,"y":1.13},{"x":16.52,"y":0.99},{"x":16.89,"y":0.99},{"x":16.77,"y":0.94},{"x":19.25,"y":1.29},{"x":19.75,"y":1.24},{"x":20.24,"y":1.17},{"x":20.36,"y":1.13},{"x":20.24,"y":1.01},{"x":20.86,"y":1.03},{"x":21.24,"y":1.01},{"x":21.61,"y":1.01},{"x":21.85,"y":1.03},
      {"x":22.1,"y":1.08},{"x":22.35,"y":1.03},{"x":22.1,"y":0.94},{"x":22.47,"y":0.92},{"x":22.85,"y":1.13},{"x":22.97,"y":0.99},{"x":22.1,"y":0.87},{"x":22.22,"y":0.8},{"x":23.59,"y":1.06},{"x":23.71,"y":0.99},{"x":24.09,"y":1.27},{"x":24.09,"y":1.2},{"x":24.21,"y":1.13},{"x":24.09,"y":1.03},{"x":24.09,"y":0.87},{"x":24.21,"y":0.82},{"x":24.58,"y":1.22},{"x":24.7,"y":1.13},{"x":24.46,"y":1.03},{"x":25.07,"y":1.0},{"x":25.2,"y":0.9},{"x":25.57,"y":0.85},{"x":25.95,"y":0.85},{"x":25.82,"y":0.92},{"x":26.44,"y":0.9},{"x":26.69,"y":1.08},{"x":27.31,"y":1.07},{"x":27.06,"y":0.82},{"x":27.68,"y":0.87},{"x":27.38,"y":0.78},{"x":29.05,"y":0.82},{"x":29.05,"y":0.72},{"x":25.95,"y":0.73},{"x":26.69,"y":0.73},{"x":27.31,"y":0.64},
      {"x":24.96,"y":0.66},{"x":25.07,"y":0.68},{"x":25.33,"y":0.64},{"x":25.7,"y":0.64},{"x":25.57,"y":0.59},{"x":23.1,"y":0.68},{"x":23.34,"y":0.64},{"x":24.09,"y":0.65},{"x":23.47,"y":0.48},{"x":23.71,"y":0.47},{"x":23.34,"y":0.46},{"x":23.84,"y":0.42},{"x":22.6,"y":0.45},{"x":21.48,"y":0.59},{"x":19.37,"y":0.73},{"x":19.37,"y":0.59},{"x":18.63,"y":0.58},{"x":19.12,"y":0.96},{"x":21.48,"y":0.89},{"x":16.64,"y":0.38},{"x":20.24,"y":0.43},{"x":20.36,"y":0.26},{"x":21.48,"y":0.31},{"x":22.85,"y":0.33},{"x":23.1,"y":0.29},{"x":23.59,"y":0.31},{"x":23.96,"y":0.42},{"x":22.97,"y":0.2},{"x":21.73,"y":0.19},{"x":25.7,"y":0.23},{"x":26.39,"y":0.29},{"x":26.14,"y":0.43},{"x":28.8,"y":0.52},{"x":28.8,"y":0.38},{"x":28.42,"y":0.14},{"x":29.29,"y":0.14},{"x":31.85,"y":0.25},
      {"x":21.48,"y":0.19},{"x":21.73,"y":0.14},{"x":21.73,"y":0.03},{"x":21.73,"y":-0.07},{"x":19.87,"y":0.0},{"x":20.94,"y":-0.02},{"x":17.02,"y":-0.1},{"x":19.12,"y":-0.13},{"x":19.25,"y":-0.3},{"x":22.6,"y":-0.09},{"x":22.72,"y":-0.1},{"x":23.47,"y":0.07},{"x":24.09,"y":0.03},{"x":24.09,"y":-0.04},{"x":25.57,"y":-0.03},{"x":24.46,"y":-0.11},{"x":24.46,"y":-0.24},{"x":23.34,"y":-0.24},{"x":23.71,"y":-0.4},{"x":24.46,"y":-0.39},{"x":26.19,"y":-0.31},{"x":27.63,"y":-0.14},{"x":27.93,"y":-0.39},{"x":26.81,"y":-0.46},{"x":26.89,"y":-0.51},{"x":20.56,"y":-0.53},{"x":22.97,"y":-0.58},{"x":23.21,"y":-0.57},{"x":23.59,"y":-0.57},{"x":22.92,"y":-0.65},{"x":21.68,"y":-0.71}
    ]
  },
  "hconcat": [
    {
      "title": {"text": "Study 1142"},
      "width": 482.3,
      "height": 501.6,
      "resolve": {"axis": {"x": "independent", "y": "independent"}},
      "layer": [
        {
          "data": {"name": "b1"},
          "transform": [{"filter": "datum.b != 'mid'"}],
          "mark": {"type": "area", "clip": true, "color": "#0000ff", "opacity": 0.3},
          "encoding": {
            "x": {"field": "x", "type": "quantitative", "scale": {"domain": [-1.68, 25.62], "nice": false, "zero": false}, "axis": {"orient": "bottom", "values": [0, 5, 10, 15, 20, 25], "title": "TSLD", "tickSize": 8, "labelPadding": 3, "titlePadding": 9}},
            "y": {"field": "lo", "type": "quantitative", "scale": {"domain": [-1.16, 6.79], "nice": false, "zero": false}, "axis": {"orient": "left", "values": [0, 2, 4, 6], "title": "Observations", "labelAngle": -90, "tickSize": 6, "labelPadding": 3, "titlePadding": 9}},
            "y2": {"field": "hi"},
            "detail": {"field": "b"}
          }
        },
        {
          "data": {"name": "b1"},
          "transform": [{"filter": "datum.b == 'mid'"}],
          "mark": {"type": "area", "clip": true, "color": "#ff0000", "opacity": 0.3},
          "encoding": {
            "x": {"field": "x", "type": "quantitative", "scale": {"domain": [-1.68, 25.62], "nice": false, "zero": false}, "axis": null},
            "y": {"field": "lo", "type": "quantitative", "scale": {"domain": [-1.16, 6.79], "nice": false, "zero": false}, "axis": null},
            "y2": {"field": "hi"}
          }
        },
        {
          "data": {"name": "o1"},
          "mark": {"type": "point", "shape": "circle", "filled": false, "size": 30, "strokeWidth": 1.3, "color": "#2292e0", "opacity": 1, "clip": true},
          "encoding": {
            "x": {"field": "x", "type": "quantitative", "scale": {"domain": [-1.68, 25.62], "nice": false, "zero": false}, "axis": null},
            "y": {"field": "y", "type": "quantitative", "scale": {"domain": [-1.16, 6.79], "nice": false, "zero": false}, "axis": null}
          }
        },
        {
          "data": {"name": "l1"},
          "mark": {"type": "line", "color": "#ff0000", "strokeWidth": 2.1, "clip": true},
          "encoding": {
            "x": {"field": "x", "type": "quantitative", "scale": {"domain": [-1.68, 25.62], "nice": false, "zero": false}, "axis": {"orient": "top", "values": [0, 5, 10, 15, 20, 25], "labels": false, "title": null, "tickSize": 6}},
            "y": {"field": "y", "type": "quantitative", "scale": {"domain": [-1.16, 6.79], "nice": false, "zero": false}, "axis": {"orient": "right", "values": [0, 2, 4, 6], "labels": false, "title": null, "tickSize": 6}},
            "strokeDash": {"field": "s", "type": "nominal", "scale": {"domain": ["med", "hi", "lo"], "range": [[1, 0], [7, 5], [7, 5]]}, "legend": null}
          }
        },
        {
          "data": {"name": "s1"},
          "mark": {"type": "point", "shape": "M-1,0L1,0M0,-1L0,1M-0.7,-0.7L0.7,0.7M-0.7,0.7L0.7,-0.7", "filled": false, "size": 90, "strokeWidth": 1.6, "color": "#ff0000", "opacity": 1},
          "encoding": {
            "x": {"field": "x", "type": "quantitative", "scale": {"domain": [-1.68, 25.62], "nice": false, "zero": false}, "axis": null},
            "y": {"field": "y", "type": "quantitative", "scale": {"domain": [-1.16, 6.79], "nice": false, "zero": false}, "axis": null}
          }
        },
        {
          "data": {"name": "k1"},
          "mark": {"type": "rule", "color": "#ffa500", "strokeWidth": 2.2},
          "encoding": {
            "x": {"field": "x", "type": "quantitative", "scale": {"domain": [-1.68, 25.62], "nice": false, "zero": false}, "axis": null},
            "y": {"datum": -1.14, "type": "quantitative", "scale": {"domain": [-1.16, 6.79], "nice": false, "zero": false}, "axis": null},
            "y2": {"datum": -0.9}
          }
        }
      ]
    },
    {
      "title": {"text": "Study CLL3011"},
      "width": 480,
      "height": 500,
      "resolve": {"axis": {"x": "independent", "y": "independent"}},
      "layer": [
        {
          "data": {"name": "b2"},
          "transform": [{"filter": "datum.b != 'mid'"}],
          "mark": {"type": "area", "clip": true, "color": "#0000ff", "opacity": 0.3},
          "encoding": {
            "x": {"field": "x", "type": "quantitative", "scale": {"domain": [-1.34, 34.37], "nice": false, "zero": false}, "axis": {"orient": "bottom", "values": [0, 10, 20, 30], "title": "TSLD", "tickSize": 8, "labelPadding": 3, "titlePadding": 9}},
            "y": {"field": "lo", "type": "quantitative", "scale": {"domain": [-1.13, 5.89], "nice": false, "zero": false}, "axis": {"orient": "left", "values": [-1, 0, 1, 2, 3, 4, 5], "labelExpr": "datum.value < 0 ? '' : datum.label", "title": "Observations", "labelAngle": -90, "tickSize": 6, "labelPadding": 3, "titlePadding": 9}},
            "y2": {"field": "hi"},
            "detail": {"field": "b"}
          }
        },
        {
          "data": {"name": "b2"},
          "transform": [{"filter": "datum.b == 'mid'"}],
          "mark": {"type": "area", "clip": true, "color": "#ff0000", "opacity": 0.3},
          "encoding": {
            "x": {"field": "x", "type": "quantitative", "scale": {"domain": [-1.34, 34.37], "nice": false, "zero": false}, "axis": null},
            "y": {"field": "lo", "type": "quantitative", "scale": {"domain": [-1.13, 5.89], "nice": false, "zero": false}, "axis": null},
            "y2": {"field": "hi"}
          }
        },
        {
          "data": {"name": "o2"},
          "mark": {"type": "point", "shape": "circle", "filled": false, "size": 30, "strokeWidth": 1.3, "color": "#2292e0", "opacity": 1, "clip": true},
          "encoding": {
            "x": {"field": "x", "type": "quantitative", "scale": {"domain": [-1.34, 34.37], "nice": false, "zero": false}, "axis": null},
            "y": {"field": "y", "type": "quantitative", "scale": {"domain": [-1.13, 5.89], "nice": false, "zero": false}, "axis": null}
          }
        },
        {
          "data": {"name": "l2"},
          "mark": {"type": "line", "color": "#ff0000", "strokeWidth": 2.1, "clip": true},
          "encoding": {
            "x": {"field": "x", "type": "quantitative", "scale": {"domain": [-1.34, 34.37], "nice": false, "zero": false}, "axis": {"orient": "top", "values": [0, 10, 20, 30], "labels": false, "title": null, "tickSize": 6}},
            "y": {"field": "y", "type": "quantitative", "scale": {"domain": [-1.13, 5.89], "nice": false, "zero": false}, "axis": null},
            "strokeDash": {"field": "s", "type": "nominal", "scale": {"domain": ["med", "hi", "lo"], "range": [[1, 0], [7, 5], [7, 5]]}, "legend": null}
          }
        },
        {
          "data": {"name": "k2"},
          "mark": {"type": "rule", "color": "#ffa500", "strokeWidth": 2.2},
          "encoding": {
            "x": {"field": "x", "type": "quantitative", "scale": {"domain": [-1.34, 34.37], "nice": false, "zero": false}, "axis": null},
            "y": {"datum": -1.11, "type": "quantitative", "scale": {"domain": [-1.13, 5.89], "nice": false, "zero": false}, "axis": null},
            "y2": {"datum": -0.9}
          }
        }
      ]
    }
  ]
}
